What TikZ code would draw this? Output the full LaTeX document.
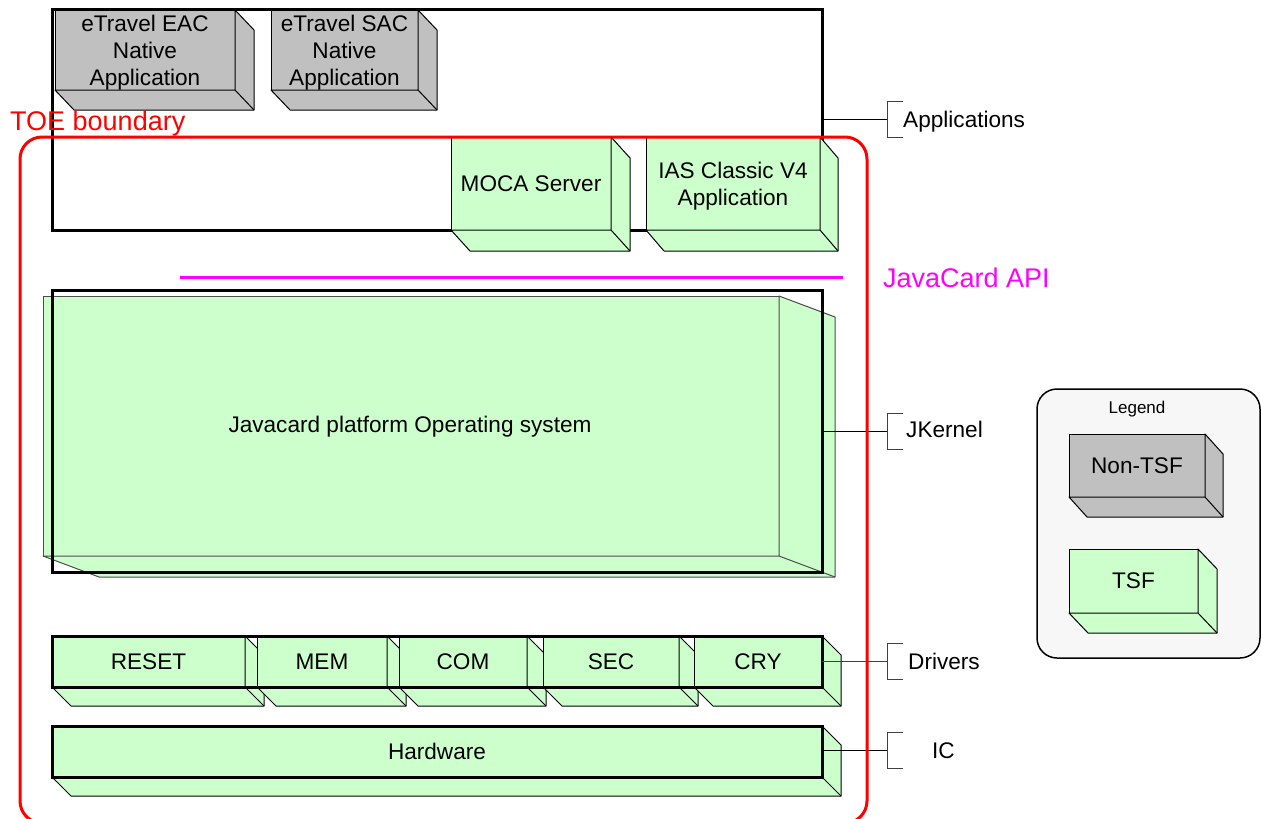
\documentclass[tikz,border=0pt]{standalone}
\usepackage{fontspec}
\setmainfont{Liberation Sans}
\definecolor{tsf}{HTML}{CCFFCC}
\definecolor{ntsf}{HTML}{C0C0C0}
\definecolor{legbg}{HTML}{F7F7F7}
\definecolor{api}{HTML}{FF00FF}
\tikzset{
 face/.style={draw=black, line width=1pt, inner sep=0pt, outer sep=0pt},
 facetext/.style={inner sep=0pt, align=center, font=\fontsize{22.6}{27}\selectfont},
 ext/.style={draw=black, line width=1pt, line join=round},
 thickbox/.style={draw=black, line width=3pt, inner sep=0pt, outer sep=0pt, anchor=north west},
 lbl/.style={font=\fontsize{22.6}{27}\selectfont, inner sep=0pt, anchor=base west},
 brk/.style={draw=black!75, line width=1pt},
}
\def\tshift{0pt}
\newcommand\cubebox[9]{%
 \node[face, fill=#8, anchor=north west, minimum width=#4-#2, minimum height=#5-#3] (#1) at (#2,#3) {};
 \filldraw[ext, fill=#8] (#1.north east) -- ++(#6,#7) -- ([shift={(#6,#7)}]#1.south east) -- ([shift={(#6,#7)}]#1.south west) -- (#1.south west) -- (#1.south east) -- cycle;
 \draw[ext] (#1.south east) -- ++(#6,#7);
 \node[facetext, yshift=\tshift] (#1t) at (#1.center) {#9};
}
\newcommand\bracketat[1]{%
 \draw[brk] ([xshift=16pt,yshift=18pt]#1) -- ([yshift=18pt]#1) -- ([yshift=-18pt]#1) -- ([xshift=16pt,yshift=-18pt]#1);
}
\begin{document}
\begin{tikzpicture}[x=1pt,y=-1pt]
\useasboundingbox (0,0) rectangle (1261,819);
\clip (0,0) rectangle (1261,819);

% Applications layer
\node[thickbox, minimum width=770, minimum height=221] (apps) at (52,9) {};
\def\tshift{-2.5pt}
\cubebox{eac}{55}{10}{235}{90}{19}{20}{ntsf}{eTravel EAC\\Native\\Application}
\cubebox{sac}{271}{10}{418}{90}{19}{20}{ntsf}{eTravel SAC\\Native\\Application}
\cubebox{ias}{646}{137}{820}{230}{18}{21}{tsf}{IAS Classic V4\\Application}
\def\tshift{0pt}
\cubebox{moca}{451}{137}{611}{230}{19}{21}{tsf}{MOCA Server}

% JavaCard API
\coordinate (apiL) at (180,277);
\coordinate (apiR) at (843,277);
\draw[api, line width=3pt] (apiL) -- (apiR);
\node[font=\fontsize{27}{30}\selectfont, text=api, inner sep=0pt, anchor=base west] (apilbl) at (883,287) {JavaCard API};

% JKernel
\node[draw=black!70, line width=1pt, fill=tsf, inner sep=0pt, outer sep=0pt, anchor=north west, minimum width=736, minimum height=260] (os) at (43,296) {};
\filldraw[draw=black!70, line width=1pt, fill=tsf, line join=round] (os.north east) -- ++(56,21) -- ([shift={(56,21)}]os.south east) -- ([shift={(56,21)}]os.south west) -- (os.south west) -- (os.south east) -- cycle;
\draw[draw=black!70, line width=1pt] (os.south east) -- ++(56,21);
\node[thickbox, minimum width=770, minimum height=282] (jk) at (52,290) {};
\node[facetext] (oslbl) at (410,427) {Javacard platform Operating system};

% Drivers
\cubebox{reset}{52}{636}{245}{687}{19}{19}{tsf}{RESET}
\cubebox{mem}{257}{636}{387}{687}{19}{19}{tsf}{MEM}
\cubebox{com}{399}{636}{527}{687}{19}{19}{tsf}{COM}
\cubebox{sec}{543}{636}{679}{687}{19}{19}{tsf}{SEC}
\cubebox{cry}{694}{636}{822}{687}{19}{19}{tsf}{CRY}
\node[thickbox, minimum width=770, minimum height=51] (drv) at (52,636) {};

% Hardware
\cubebox{hw}{52}{726}{822}{777}{19}{19}{tsf}{Hardware}
\node[thickbox, minimum width=770, minimum height=51] (ic) at (52,726) {};

% Layer labels with brackets
\coordinate (bA) at (887,119);
\coordinate (bJ) at (887,431);
\coordinate (bD) at (887,661);
\coordinate (bI) at (887,750);
\draw[black, line width=1pt] (apps.east |- bA) -- (bA);
\draw[black, line width=1pt] (jk.east |- bJ) -- (bJ);
\draw[black!75, line width=1pt] (drv.east |- bD) -- (bD);
\draw[black, line width=1pt] (ic.east |- bI) -- (bI);
\bracketat{bA}
\bracketat{bJ}
\bracketat{bD}
\bracketat{bI}
\node[lbl] (lA) at (903,127) {Applications};
\node[lbl] (lJ) at (906,437) {JKernel};
\node[lbl] (lD) at (908,669) {Drivers};
\node[lbl] (lI) at (932,758) {IC};

% TOE boundary
\draw[red, line width=3pt, rounded corners=22pt] (20,137) rectangle (867,823);
\node[font=\fontsize{27}{30}\selectfont, text=red, inner sep=0pt, anchor=base west] (toe) at (10,130) {TOE boundary};

% Legend
\draw[black, line width=1.5pt, fill=legbg, rounded corners=20pt] (1037,389) rectangle (1260,658);
\node[font=\fontsize{17}{20}\selectfont, inner sep=0pt] (leg) at (1137,409) {Legend};
\cubebox{lnon}{1069}{434}{1205}{497}{18}{20}{ntsf}{Non-TSF}
\cubebox{ltsf}{1069}{549}{1198}{613}{19}{20}{tsf}{TSF}
\end{tikzpicture}
\end{document}
